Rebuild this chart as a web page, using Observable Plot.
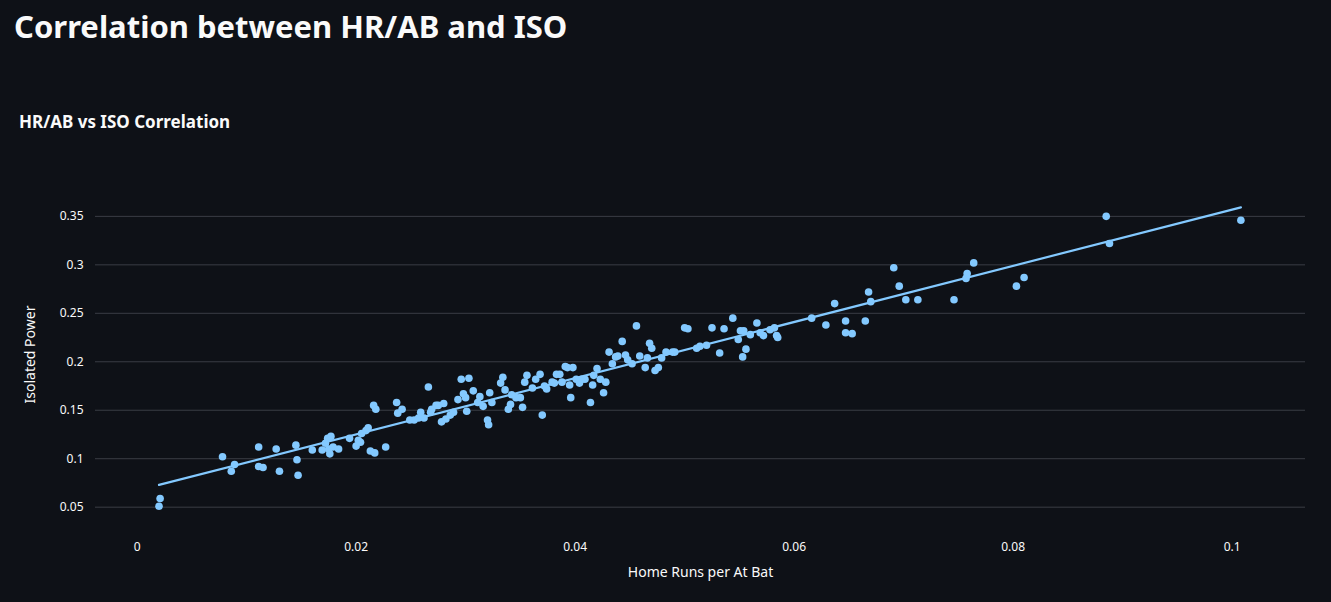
<!DOCTYPE html>
<html><head><meta charset="utf-8">
<script src="https://cdn.jsdelivr.net/npm/d3@7"></script>
<script src="https://cdn.jsdelivr.net/npm/@observablehq/plot@0.6"></script>
<style>
body{margin:0;background:#0e1117;color:#fafafa;font-family:"Noto Sans",sans-serif;width:1331px;height:602px;overflow:hidden}
h1{margin:0;position:absolute;left:14px;top:5px;font-size:31px;font-weight:700}
h3{margin:0;position:absolute;left:19px;top:110px;font-size:17px;font-weight:700}
#chart{position:absolute;left:0;top:150px}
</style></head><body>
<h1>Correlation between HR/AB and ISO</h1>
<h3>HR/AB vs ISO Correlation</h3>
<div id="chart"></div>
<script>
const hrPerAB = [0.0020,0.0021,0.0078,0.0086,0.0089,0.0111,0.0111,0.0115,0.0127,0.0130,0.0145,0.0146,0.0147,0.0160,0.0169,0.0172,0.0174,0.0175,0.0176,0.0177,0.0179,0.0184,0.0194,0.0200,0.0202,0.0204,0.0205,0.0209,0.0211,0.0213,0.0217,0.0216,0.0218,0.0227,0.0237,0.0238,0.0242,0.0249,0.0253,0.0257,0.0259,0.0262,0.0266,0.0268,0.0269,0.0273,0.0275,0.0278,0.0280,0.0282,0.0286,0.0289,0.0293,0.0296,0.0298,0.0300,0.0301,0.0303,0.0307,0.0311,0.0313,0.0316,0.0320,0.0321,0.0322,0.0324,0.0332,0.0334,0.0336,0.0339,0.0341,0.0342,0.0346,0.0350,0.0352,0.0354,0.0356,0.0361,0.0364,0.0368,0.0370,0.0372,0.0374,0.0379,0.0381,0.0383,0.0386,0.0388,0.0391,0.0393,0.0395,0.0396,0.0398,0.0401,0.0404,0.0406,0.0409,0.0414,0.0416,0.0417,0.0420,0.0423,0.0426,0.0428,0.0431,0.0434,0.0437,0.0439,0.0443,0.0446,0.0448,0.0452,0.0456,0.0459,0.0464,0.0466,0.0468,0.0470,0.0473,0.0476,0.0479,0.0483,0.0489,0.0491,0.0500,0.0503,0.0511,0.0514,0.0520,0.0525,0.0532,0.0536,0.0544,0.0549,0.0551,0.0553,0.0554,0.0556,0.0560,0.0566,0.0569,0.0572,0.0578,0.0582,0.0584,0.0585,0.0616,0.0629,0.0637,0.0647,0.0647,0.0653,0.0665,0.0668,0.0670,0.0691,0.0696,0.0702,0.0713,0.0746,0.0757,0.0758,0.0764,0.0803,0.0810,0.0885,0.0888,0.1008];
const iso = [0.051,0.059,0.102,0.087,0.094,0.112,0.092,0.091,0.110,0.087,0.114,0.099,0.083,0.109,0.109,0.116,0.121,0.110,0.105,0.123,0.112,0.110,0.121,0.113,0.119,0.117,0.126,0.129,0.132,0.108,0.106,0.155,0.151,0.112,0.158,0.147,0.151,0.140,0.140,0.142,0.148,0.142,0.174,0.148,0.151,0.155,0.155,0.138,0.157,0.141,0.145,0.148,0.161,0.182,0.167,0.163,0.149,0.183,0.170,0.158,0.164,0.154,0.140,0.135,0.168,0.158,0.178,0.184,0.171,0.151,0.156,0.166,0.163,0.163,0.153,0.179,0.186,0.173,0.182,0.187,0.145,0.175,0.172,0.179,0.178,0.187,0.187,0.179,0.195,0.194,0.176,0.163,0.194,0.182,0.178,0.182,0.182,0.158,0.176,0.186,0.193,0.182,0.168,0.179,0.210,0.198,0.205,0.206,0.221,0.207,0.202,0.198,0.237,0.206,0.194,0.204,0.219,0.214,0.191,0.194,0.204,0.210,0.210,0.210,0.235,0.234,0.214,0.216,0.217,0.235,0.209,0.234,0.245,0.223,0.232,0.205,0.232,0.213,0.228,0.240,0.230,0.227,0.233,0.235,0.227,0.225,0.245,0.238,0.260,0.230,0.242,0.229,0.242,0.272,0.262,0.297,0.278,0.264,0.264,0.264,0.286,0.291,0.302,0.278,0.287,0.350,0.322,0.346];
const xTicks = [0,0.02,0.04,0.06,0.08,0.1];
const yTicks = [0.05,0.1,0.15,0.2,0.25,0.3,0.35];
const data = hrPerAB.map((x,i)=>({x, y: iso[i]}));
const fmt = d => String(+d.toFixed(2));
const chart = Plot.plot({
  width:1331, height:450,
  marginLeft:95, marginRight:26, marginTop:30, marginBottom:72,
  style:{background:"#0e1117", color:"#fafafa", fontFamily:"Noto Sans, sans-serif", fontSize:"12px"},
  x:{domain:[-0.0038,0.1067], ticks:xTicks, tickFormat:fmt, label:"Home Runs per At Bat", labelArrow:"none", labelAnchor:"center", labelOffset:48, tickSize:0, tickPadding:14},
  y:{domain:[0.028,0.387], ticks:yTicks, tickFormat:fmt, label:"Isolated Power", labelArrow:"none", labelAnchor:"center", labelOffset:70, tickSize:0, tickPadding:12},
  marks:[
    Plot.gridY(yTicks,{stroke:"#3a3d45", strokeOpacity:1}),
    Plot.dot(data,{x:"x", y:"y", r:3.8, fill:"#83c9ff", stroke:"none"}),
    Plot.linearRegressionY(data,{x:"x", y:"y", stroke:"#83c9ff", strokeWidth:2.2, ci:0})
  ]
});
chart.querySelectorAll("[aria-label='x-axis label'] text, [aria-label='y-axis label'] text").forEach(t=>t.style.fontSize="14px");
document.getElementById("chart").append(chart);
</script></body></html>
